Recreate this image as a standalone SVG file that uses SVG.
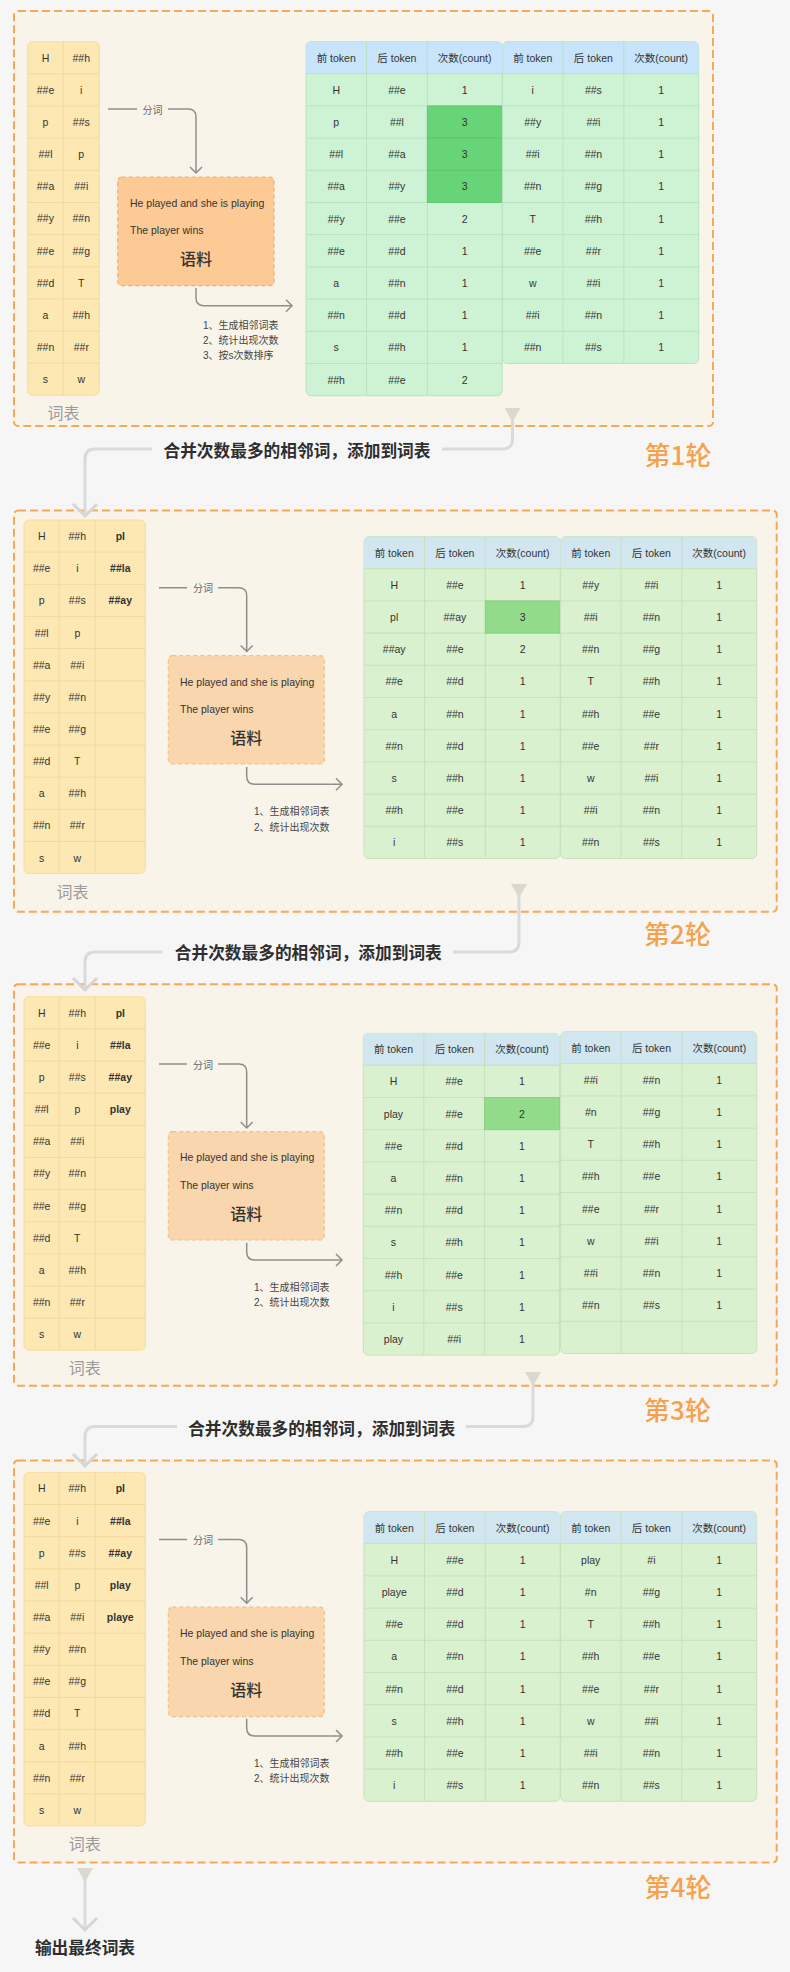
<svg xmlns="http://www.w3.org/2000/svg" width="790" height="1972" viewBox="0 0 790 1972">
<style>
text{font-family:"Liberation Sans","Noto Sans CJK SC",sans-serif;fill:#333;}
.c{text-anchor:middle;dominant-baseline:central;font-size:10.5px;}
.b{font-weight:bold;}
.round{fill:#f9f4ea;stroke:#f7a756;stroke-width:2;stroke-dasharray:8 4;}
.voc{fill:#fde8b3;stroke:#f6dca2;stroke-width:1;}
.vl{stroke:#f3d99c;stroke-width:1;fill:none;}
.vlab{font-family:"Noto Sans CJK SC",sans-serif;font-size:16px;fill:#9b9b9b;text-anchor:middle;dominant-baseline:central;}
.corp1{fill:#fdca96;stroke:#efae73;stroke-width:1.2;stroke-dasharray:4 3;}
.corp{fill:#f9d6ad;stroke:#eec08f;stroke-width:1.2;stroke-dasharray:4 3;}
.ct{font-size:10.5px;dominant-baseline:central;}
.yl{font-family:"Noto Sans CJK SC",sans-serif;font-size:16px;font-weight:500;text-anchor:middle;dominant-baseline:central;}
.fc{font-family:"Noto Sans CJK SC",sans-serif;font-size:10px;fill:#666;text-anchor:middle;dominant-baseline:central;}
.ls{font-size:10px;fill:#444;dominant-baseline:central;}
.sm{fill:none;stroke:#8e8e8e;stroke-width:1.5;}
.con{fill:none;stroke:#dadada;stroke-width:3;}
.ctx{font-family:"Noto Sans CJK SC",sans-serif;font-size:16.7px;font-weight:bold;text-anchor:middle;dominant-baseline:central;fill:#2e2e2e;}
.rnd{font-family:"Noto Sans CJK SC",sans-serif;font-size:26px;font-weight:500;fill:#f7a24b;text-anchor:middle;dominant-baseline:central;}
.tb1{fill:#cef3d4;stroke:#b8e1c1;stroke-width:1;}
.th1{fill:#c7e4fb;}
.hl1{fill:#67d577;stroke:#5cc46b;stroke-width:0.8;}
.g1{stroke:#b8e1c1;stroke-width:1;fill:none;}
.tb{fill:#daf1cf;stroke:#c6e1bb;stroke-width:1;}
.th{fill:#d1e6ef;}
.hl{fill:#92db8b;stroke:#86cc80;stroke-width:0.8;}
.g{stroke:#c6e1bb;stroke-width:1;fill:none;}
</style>
<defs>
<marker id="vsm" viewBox="-8 -8 10 16" refX="0" refY="0" markerWidth="10" markerHeight="16" markerUnits="userSpaceOnUse" orient="auto" overflow="visible"><path d="M-6,-6L0,0L-6,6" fill="none" stroke="#8e8e8e" stroke-width="1.5"/></marker>
<marker id="vbig" viewBox="-14 -14 16 28" refX="0" refY="0" markerWidth="16" markerHeight="28" markerUnits="userSpaceOnUse" orient="auto" overflow="visible"><path d="M-12,-12L0,0L-12,12" fill="none" stroke="#d6d6d6" stroke-width="3"/></marker>
<marker id="tri" viewBox="0 -9 15 18" refX="0" refY="0" markerWidth="15" markerHeight="18" markerUnits="userSpaceOnUse" orient="auto" overflow="visible"><path d="M0,-8L14,0L0,8Z" fill="#dcd8cf"/></marker>
<g id="sh1-10"><rect class="tb1" x="0" y="0" width="196.2" height="354" rx="5"/><path class="th1" d="M0,32V5Q0,0 5,0H191.2Q196.2,0 196.2,5V32Z"/><path class="g1" d="M60.5,0V354M121.3,0V354M0,32H196.2M0,64.2H196.2M0,96.4H196.2M0,128.6H196.2M0,160.8H196.2M0,193H196.2M0,225.2H196.2M0,257.4H196.2M0,289.6H196.2M0,321.8H196.2"/></g>
<g id="sh1-9"><rect class="tb1" x="0" y="0" width="196.2" height="321.8" rx="5"/><path class="th1" d="M0,32V5Q0,0 5,0H191.2Q196.2,0 196.2,5V32Z"/><path class="g1" d="M60.5,0V321.8M121.3,0V321.8M0,32H196.2M0,64.2H196.2M0,96.4H196.2M0,128.6H196.2M0,160.8H196.2M0,193H196.2M0,225.2H196.2M0,257.4H196.2M0,289.6H196.2"/></g>
<g id="sh2-9"><rect class="tb" x="0" y="0" width="196.2" height="321.8" rx="5"/><path class="th" d="M0,32V5Q0,0 5,0H191.2Q196.2,0 196.2,5V32Z"/><path class="g" d="M60.5,0V321.8M121.3,0V321.8M0,32H196.2M0,64.2H196.2M0,96.4H196.2M0,128.6H196.2M0,160.8H196.2M0,193H196.2M0,225.2H196.2M0,257.4H196.2M0,289.6H196.2"/></g>
<g id="sh2-8"><rect class="tb" x="0" y="0" width="196.2" height="289.6" rx="5"/><path class="th" d="M0,32V5Q0,0 5,0H191.2Q196.2,0 196.2,5V32Z"/><path class="g" d="M60.5,0V289.6M121.3,0V289.6M0,32H196.2M0,64.2H196.2M0,96.4H196.2M0,128.6H196.2M0,160.8H196.2M0,193H196.2M0,225.2H196.2M0,257.4H196.2"/></g>
<g id="voc2"><rect class="voc" x="0" y="0" width="71.6" height="353.6" rx="5"/><path class="vl" d="M35.6,0V353.6M0,32.1H71.6M0,64.3H71.6M0,96.4H71.6M0,128.6H71.6M0,160.8H71.6M0,192.9H71.6M0,225.1H71.6M0,257.2H71.6M0,289.4H71.6M0,321.5H71.6"/></g>
<g id="voc3"><rect class="voc" x="0" y="0" width="121.3" height="353.5" rx="5"/><path class="vl" d="M35.3,0V353.5M71.3,0V353.5M0,32.1H121.3M0,64.3H121.3M0,96.4H121.3M0,128.6H121.3M0,160.8H121.3M0,192.9H121.3M0,225.1H121.3M0,257.2H121.3M0,289.4H121.3M0,321.5H121.3"/></g>
</defs>
<rect x="0" y="0" width="790" height="1972" fill="#f6f6f6"/>

<!-- ROUND 1 -->
<g id="r1-box"><rect class="round" x="14" y="11" width="699" height="415" rx="4"/><text class="rnd" x="678" y="453">第1轮</text></g>
<g id="r1-vocab" transform="translate(27.7,41.7)"><use href="#voc2"/>
<text class="c" y="16.1"><tspan x="17.8">H</tspan><tspan x="53.6">##h</tspan></text>
<text class="c" y="48.2"><tspan x="17.8">##e</tspan><tspan x="53.6">i</tspan></text>
<text class="c" y="80.4"><tspan x="17.8">p</tspan><tspan x="53.6">##s</tspan></text>
<text class="c" y="112.5"><tspan x="17.8">##l</tspan><tspan x="53.6">p</tspan></text>
<text class="c" y="144.7"><tspan x="17.8">##a</tspan><tspan x="53.6">##i</tspan></text>
<text class="c" y="176.8"><tspan x="17.8">##y</tspan><tspan x="53.6">##n</tspan></text>
<text class="c" y="209"><tspan x="17.8">##e</tspan><tspan x="53.6">##g</tspan></text>
<text class="c" y="241.1"><tspan x="17.8">##d</tspan><tspan x="53.6">T</tspan></text>
<text class="c" y="273.3"><tspan x="17.8">a</tspan><tspan x="53.6">##h</tspan></text>
<text class="c" y="305.4"><tspan x="17.8">##n</tspan><tspan x="53.6">##r</tspan></text>
<text class="c" y="337.6"><tspan x="17.8">s</tspan><tspan x="53.6">w</tspan></text>
<text class="vlab" x="35.8" y="370.3">词表</text>
</g>
<g id="r1-corpus" transform="translate(117.7,177)"><rect class="corp1" x="0" y="0" width="156.3" height="108.7" rx="4"/>
<text class="ct" x="12.3" y="26">He played and she is playing</text>
<text class="ct" x="12.3" y="53">The player wins</text>
<text class="yl" x="78.2" y="81">语料</text></g>
<g id="r1-pairs-a" transform="translate(306,41.7)"><use href="#sh1-10"/>
<rect class="hl1" x="121.3" y="64.2" width="74.9" height="32.2"/><rect class="hl1" x="121.3" y="96.4" width="74.9" height="32.2"/><rect class="hl1" x="121.3" y="128.6" width="74.9" height="32.2"/>
<text class="c" y="16"><tspan x="30.2">前 token</tspan><tspan x="90.9">后 token</tspan><tspan x="158.7">次数(count)</tspan></text>
<text class="c" y="48.1"><tspan x="30.2">H</tspan><tspan x="90.9">##e</tspan><tspan x="158.7">1</tspan></text>
<text class="c" y="80.3"><tspan x="30.2">p</tspan><tspan x="90.9">##l</tspan><tspan x="158.7">3</tspan></text>
<text class="c" y="112.5"><tspan x="30.2">##l</tspan><tspan x="90.9">##a</tspan><tspan x="158.7">3</tspan></text>
<text class="c" y="144.7"><tspan x="30.2">##a</tspan><tspan x="90.9">##y</tspan><tspan x="158.7">3</tspan></text>
<text class="c" y="176.9"><tspan x="30.2">##y</tspan><tspan x="90.9">##e</tspan><tspan x="158.7">2</tspan></text>
<text class="c" y="209.1"><tspan x="30.2">##e</tspan><tspan x="90.9">##d</tspan><tspan x="158.7">1</tspan></text>
<text class="c" y="241.3"><tspan x="30.2">a</tspan><tspan x="90.9">##n</tspan><tspan x="158.7">1</tspan></text>
<text class="c" y="273.5"><tspan x="30.2">##n</tspan><tspan x="90.9">##d</tspan><tspan x="158.7">1</tspan></text>
<text class="c" y="305.7"><tspan x="30.2">s</tspan><tspan x="90.9">##h</tspan><tspan x="158.7">1</tspan></text>
<text class="c" y="337.9"><tspan x="30.2">##h</tspan><tspan x="90.9">##e</tspan><tspan x="158.7">2</tspan></text>
</g>
<g id="r1-pairs-b" transform="translate(502.5,41.7)"><use href="#sh1-9"/>
<text class="c" y="16"><tspan x="30.2">前 token</tspan><tspan x="90.9">后 token</tspan><tspan x="158.7">次数(count)</tspan></text>
<text class="c" y="48.1"><tspan x="30.2">i</tspan><tspan x="90.9">##s</tspan><tspan x="158.7">1</tspan></text>
<text class="c" y="80.3"><tspan x="30.2">##y</tspan><tspan x="90.9">##i</tspan><tspan x="158.7">1</tspan></text>
<text class="c" y="112.5"><tspan x="30.2">##i</tspan><tspan x="90.9">##n</tspan><tspan x="158.7">1</tspan></text>
<text class="c" y="144.7"><tspan x="30.2">##n</tspan><tspan x="90.9">##g</tspan><tspan x="158.7">1</tspan></text>
<text class="c" y="176.9"><tspan x="30.2">T</tspan><tspan x="90.9">##h</tspan><tspan x="158.7">1</tspan></text>
<text class="c" y="209.1"><tspan x="30.2">##e</tspan><tspan x="90.9">##r</tspan><tspan x="158.7">1</tspan></text>
<text class="c" y="241.3"><tspan x="30.2">w</tspan><tspan x="90.9">##i</tspan><tspan x="158.7">1</tspan></text>
<text class="c" y="273.5"><tspan x="30.2">##i</tspan><tspan x="90.9">##n</tspan><tspan x="158.7">1</tspan></text>
<text class="c" y="305.7"><tspan x="30.2">##n</tspan><tspan x="90.9">##s</tspan><tspan x="158.7">1</tspan></text>
</g>

<!-- ROUND 2 -->
<g id="r2-box"><rect class="round" x="14" y="510.5" width="762.7" height="401.2" rx="4"/><text class="rnd" x="677.5" y="932.7">第2轮</text></g>
<g id="r2-vocab" transform="translate(24,520)"><use href="#voc3"/>
<text class="c" y="16.1"><tspan x="17.7">H</tspan><tspan x="53.3">##h</tspan><tspan x="96.3" class="b">pl</tspan></text>
<text class="c" y="48.2"><tspan x="17.7">##e</tspan><tspan x="53.3">i</tspan><tspan x="96.3" class="b">##la</tspan></text>
<text class="c" y="80.4"><tspan x="17.7">p</tspan><tspan x="53.3">##s</tspan><tspan x="96.3" class="b">##ay</tspan></text>
<text class="c" y="112.5"><tspan x="17.7">##l</tspan><tspan x="53.3">p</tspan></text>
<text class="c" y="144.7"><tspan x="17.7">##a</tspan><tspan x="53.3">##i</tspan></text>
<text class="c" y="176.8"><tspan x="17.7">##y</tspan><tspan x="53.3">##n</tspan></text>
<text class="c" y="209"><tspan x="17.7">##e</tspan><tspan x="53.3">##g</tspan></text>
<text class="c" y="241.1"><tspan x="17.7">##d</tspan><tspan x="53.3">T</tspan></text>
<text class="c" y="273.3"><tspan x="17.7">a</tspan><tspan x="53.3">##h</tspan></text>
<text class="c" y="305.4"><tspan x="17.7">##n</tspan><tspan x="53.3">##r</tspan></text>
<text class="c" y="337.6"><tspan x="17.7">s</tspan><tspan x="53.3">w</tspan></text>
<text class="vlab" x="48.5" y="371">词表</text>
</g>
<g id="r2-corpus" transform="translate(168.3,655.7)"><rect class="corp" x="0" y="0" width="156" height="108.3" rx="4"/>
<text class="ct" x="11.7" y="26">He played and she is playing</text>
<text class="ct" x="11.7" y="53.3">The player wins</text>
<text class="yl" x="78" y="81.3">语料</text></g>
<g id="r2-pairs-a" transform="translate(364,536.7)"><use href="#sh2-9"/>
<rect class="hl" x="121.3" y="64.2" width="74.9" height="32.2"/>
<text class="c" y="16"><tspan x="30.2">前 token</tspan><tspan x="90.9">后 token</tspan><tspan x="158.7">次数(count)</tspan></text>
<text class="c" y="48.1"><tspan x="30.2">H</tspan><tspan x="90.9">##e</tspan><tspan x="158.7">1</tspan></text>
<text class="c" y="80.3"><tspan x="30.2">pl</tspan><tspan x="90.9">##ay</tspan><tspan x="158.7">3</tspan></text>
<text class="c" y="112.5"><tspan x="30.2">##ay</tspan><tspan x="90.9">##e</tspan><tspan x="158.7">2</tspan></text>
<text class="c" y="144.7"><tspan x="30.2">##e</tspan><tspan x="90.9">##d</tspan><tspan x="158.7">1</tspan></text>
<text class="c" y="176.9"><tspan x="30.2">a</tspan><tspan x="90.9">##n</tspan><tspan x="158.7">1</tspan></text>
<text class="c" y="209.1"><tspan x="30.2">##n</tspan><tspan x="90.9">##d</tspan><tspan x="158.7">1</tspan></text>
<text class="c" y="241.3"><tspan x="30.2">s</tspan><tspan x="90.9">##h</tspan><tspan x="158.7">1</tspan></text>
<text class="c" y="273.5"><tspan x="30.2">##h</tspan><tspan x="90.9">##e</tspan><tspan x="158.7">1</tspan></text>
<text class="c" y="305.7"><tspan x="30.2">i</tspan><tspan x="90.9">##s</tspan><tspan x="158.7">1</tspan></text>
</g>
<g id="r2-pairs-b" transform="translate(560.5,536.7)"><use href="#sh2-9"/>
<text class="c" y="16"><tspan x="30.2">前 token</tspan><tspan x="90.9">后 token</tspan><tspan x="158.7">次数(count)</tspan></text>
<text class="c" y="48.1"><tspan x="30.2">##y</tspan><tspan x="90.9">##i</tspan><tspan x="158.7">1</tspan></text>
<text class="c" y="80.3"><tspan x="30.2">##i</tspan><tspan x="90.9">##n</tspan><tspan x="158.7">1</tspan></text>
<text class="c" y="112.5"><tspan x="30.2">##n</tspan><tspan x="90.9">##g</tspan><tspan x="158.7">1</tspan></text>
<text class="c" y="144.7"><tspan x="30.2">T</tspan><tspan x="90.9">##h</tspan><tspan x="158.7">1</tspan></text>
<text class="c" y="176.9"><tspan x="30.2">##h</tspan><tspan x="90.9">##e</tspan><tspan x="158.7">1</tspan></text>
<text class="c" y="209.1"><tspan x="30.2">##e</tspan><tspan x="90.9">##r</tspan><tspan x="158.7">1</tspan></text>
<text class="c" y="241.3"><tspan x="30.2">w</tspan><tspan x="90.9">##i</tspan><tspan x="158.7">1</tspan></text>
<text class="c" y="273.5"><tspan x="30.2">##i</tspan><tspan x="90.9">##n</tspan><tspan x="158.7">1</tspan></text>
<text class="c" y="305.7"><tspan x="30.2">##n</tspan><tspan x="90.9">##s</tspan><tspan x="158.7">1</tspan></text>
</g>

<!-- ROUND 3 -->
<g id="r3-box"><rect class="round" x="14" y="984.3" width="762.7" height="401.4" rx="4"/><text class="rnd" x="677.5" y="1408.3">第3轮</text></g>
<g id="r3-vocab" transform="translate(24,996.7)"><use href="#voc3"/>
<text class="c" y="16.1"><tspan x="17.7">H</tspan><tspan x="53.3">##h</tspan><tspan x="96.3" class="b">pl</tspan></text>
<text class="c" y="48.2"><tspan x="17.7">##e</tspan><tspan x="53.3">i</tspan><tspan x="96.3" class="b">##la</tspan></text>
<text class="c" y="80.4"><tspan x="17.7">p</tspan><tspan x="53.3">##s</tspan><tspan x="96.3" class="b">##ay</tspan></text>
<text class="c" y="112.5"><tspan x="17.7">##l</tspan><tspan x="53.3">p</tspan><tspan x="96.3" class="b">play</tspan></text>
<text class="c" y="144.7"><tspan x="17.7">##a</tspan><tspan x="53.3">##i</tspan></text>
<text class="c" y="176.8"><tspan x="17.7">##y</tspan><tspan x="53.3">##n</tspan></text>
<text class="c" y="209"><tspan x="17.7">##e</tspan><tspan x="53.3">##g</tspan></text>
<text class="c" y="241.1"><tspan x="17.7">##d</tspan><tspan x="53.3">T</tspan></text>
<text class="c" y="273.3"><tspan x="17.7">a</tspan><tspan x="53.3">##h</tspan></text>
<text class="c" y="305.4"><tspan x="17.7">##n</tspan><tspan x="53.3">##r</tspan></text>
<text class="c" y="337.6"><tspan x="17.7">s</tspan><tspan x="53.3">w</tspan></text>
<text class="vlab" x="60.8" y="370">词表</text>
</g>
<g id="r3-corpus" transform="translate(168.3,1131.7)"><rect class="corp" x="0" y="0" width="156" height="108.3" rx="4"/>
<text class="ct" x="11.7" y="25.6">He played and she is playing</text>
<text class="ct" x="11.7" y="53.3">The player wins</text>
<text class="yl" x="78" y="81.6">语料</text></g>
<g id="r3-pairs-a" transform="translate(363.3,1033.3)"><use href="#sh2-9"/>
<rect class="hl" x="121.3" y="64.2" width="74.9" height="32.2"/>
<text class="c" y="16"><tspan x="30.2">前 token</tspan><tspan x="90.9">后 token</tspan><tspan x="158.7">次数(count)</tspan></text>
<text class="c" y="48.1"><tspan x="30.2">H</tspan><tspan x="90.9">##e</tspan><tspan x="158.7">1</tspan></text>
<text class="c" y="80.3"><tspan x="30.2">play</tspan><tspan x="90.9">##e</tspan><tspan x="158.7">2</tspan></text>
<text class="c" y="112.5"><tspan x="30.2">##e</tspan><tspan x="90.9">##d</tspan><tspan x="158.7">1</tspan></text>
<text class="c" y="144.7"><tspan x="30.2">a</tspan><tspan x="90.9">##n</tspan><tspan x="158.7">1</tspan></text>
<text class="c" y="176.9"><tspan x="30.2">##n</tspan><tspan x="90.9">##d</tspan><tspan x="158.7">1</tspan></text>
<text class="c" y="209.1"><tspan x="30.2">s</tspan><tspan x="90.9">##h</tspan><tspan x="158.7">1</tspan></text>
<text class="c" y="241.3"><tspan x="30.2">##h</tspan><tspan x="90.9">##e</tspan><tspan x="158.7">1</tspan></text>
<text class="c" y="273.5"><tspan x="30.2">i</tspan><tspan x="90.9">##s</tspan><tspan x="158.7">1</tspan></text>
<text class="c" y="305.7"><tspan x="30.2">play</tspan><tspan x="90.9">##i</tspan><tspan x="158.7">1</tspan></text>
</g>
<g id="r3-pairs-b" transform="translate(560.6,1031.7)"><use href="#sh2-9"/>
<text class="c" y="16"><tspan x="30.2">前 token</tspan><tspan x="90.9">后 token</tspan><tspan x="158.7">次数(count)</tspan></text>
<text class="c" y="48.1"><tspan x="30.2">##i</tspan><tspan x="90.9">##n</tspan><tspan x="158.7">1</tspan></text>
<text class="c" y="80.3"><tspan x="30.2">#n</tspan><tspan x="90.9">##g</tspan><tspan x="158.7">1</tspan></text>
<text class="c" y="112.5"><tspan x="30.2">T</tspan><tspan x="90.9">##h</tspan><tspan x="158.7">1</tspan></text>
<text class="c" y="144.7"><tspan x="30.2">##h</tspan><tspan x="90.9">##e</tspan><tspan x="158.7">1</tspan></text>
<text class="c" y="176.9"><tspan x="30.2">##e</tspan><tspan x="90.9">##r</tspan><tspan x="158.7">1</tspan></text>
<text class="c" y="209.1"><tspan x="30.2">w</tspan><tspan x="90.9">##i</tspan><tspan x="158.7">1</tspan></text>
<text class="c" y="241.3"><tspan x="30.2">##i</tspan><tspan x="90.9">##n</tspan><tspan x="158.7">1</tspan></text>
<text class="c" y="273.5"><tspan x="30.2">##n</tspan><tspan x="90.9">##s</tspan><tspan x="158.7">1</tspan></text>
</g>

<!-- ROUND 4 -->
<g id="r4-box"><rect class="round" x="14" y="1460.6" width="762.7" height="401.9" rx="4"/><text class="rnd" x="678" y="1885">第4轮</text></g>
<g id="r4-vocab" transform="translate(24,1472.4)"><use href="#voc3"/>
<text class="c" y="16.1"><tspan x="17.7">H</tspan><tspan x="53.3">##h</tspan><tspan x="96.3" class="b">pl</tspan></text>
<text class="c" y="48.2"><tspan x="17.7">##e</tspan><tspan x="53.3">i</tspan><tspan x="96.3" class="b">##la</tspan></text>
<text class="c" y="80.4"><tspan x="17.7">p</tspan><tspan x="53.3">##s</tspan><tspan x="96.3" class="b">##ay</tspan></text>
<text class="c" y="112.5"><tspan x="17.7">##l</tspan><tspan x="53.3">p</tspan><tspan x="96.3" class="b">play</tspan></text>
<text class="c" y="144.7"><tspan x="17.7">##a</tspan><tspan x="53.3">##i</tspan><tspan x="96.3" class="b">playe</tspan></text>
<text class="c" y="176.8"><tspan x="17.7">##y</tspan><tspan x="53.3">##n</tspan></text>
<text class="c" y="209"><tspan x="17.7">##e</tspan><tspan x="53.3">##g</tspan></text>
<text class="c" y="241.1"><tspan x="17.7">##d</tspan><tspan x="53.3">T</tspan></text>
<text class="c" y="273.3"><tspan x="17.7">a</tspan><tspan x="53.3">##h</tspan></text>
<text class="c" y="305.4"><tspan x="17.7">##n</tspan><tspan x="53.3">##r</tspan></text>
<text class="c" y="337.6"><tspan x="17.7">s</tspan><tspan x="53.3">w</tspan></text>
<text class="vlab" x="60.8" y="370.6">词表</text>
</g>
<g id="r4-corpus" transform="translate(168.3,1607.2)"><rect class="corp" x="0" y="0" width="156" height="109.4" rx="4"/>
<text class="ct" x="11.7" y="25.9">He played and she is playing</text>
<text class="ct" x="11.7" y="53.8">The player wins</text>
<text class="yl" x="78" y="81.6">语料</text></g>
<g id="r4-pairs-a" transform="translate(364,1511.7)"><use href="#sh2-8"/>
<text class="c" y="16"><tspan x="30.2">前 token</tspan><tspan x="90.9">后 token</tspan><tspan x="158.7">次数(count)</tspan></text>
<text class="c" y="48.1"><tspan x="30.2">H</tspan><tspan x="90.9">##e</tspan><tspan x="158.7">1</tspan></text>
<text class="c" y="80.3"><tspan x="30.2">playe</tspan><tspan x="90.9">##d</tspan><tspan x="158.7">1</tspan></text>
<text class="c" y="112.5"><tspan x="30.2">##e</tspan><tspan x="90.9">##d</tspan><tspan x="158.7">1</tspan></text>
<text class="c" y="144.7"><tspan x="30.2">a</tspan><tspan x="90.9">##n</tspan><tspan x="158.7">1</tspan></text>
<text class="c" y="176.9"><tspan x="30.2">##n</tspan><tspan x="90.9">##d</tspan><tspan x="158.7">1</tspan></text>
<text class="c" y="209.1"><tspan x="30.2">s</tspan><tspan x="90.9">##h</tspan><tspan x="158.7">1</tspan></text>
<text class="c" y="241.3"><tspan x="30.2">##h</tspan><tspan x="90.9">##e</tspan><tspan x="158.7">1</tspan></text>
<text class="c" y="273.5"><tspan x="30.2">i</tspan><tspan x="90.9">##s</tspan><tspan x="158.7">1</tspan></text>
</g>
<g id="r4-pairs-b" transform="translate(560.5,1511.7)"><use href="#sh2-8"/>
<text class="c" y="16"><tspan x="30.2">前 token</tspan><tspan x="90.9">后 token</tspan><tspan x="158.7">次数(count)</tspan></text>
<text class="c" y="48.1"><tspan x="30.2">play</tspan><tspan x="90.9">#i</tspan><tspan x="158.7">1</tspan></text>
<text class="c" y="80.3"><tspan x="30.2">#n</tspan><tspan x="90.9">##g</tspan><tspan x="158.7">1</tspan></text>
<text class="c" y="112.5"><tspan x="30.2">T</tspan><tspan x="90.9">##h</tspan><tspan x="158.7">1</tspan></text>
<text class="c" y="144.7"><tspan x="30.2">##h</tspan><tspan x="90.9">##e</tspan><tspan x="158.7">1</tspan></text>
<text class="c" y="176.9"><tspan x="30.2">##e</tspan><tspan x="90.9">##r</tspan><tspan x="158.7">1</tspan></text>
<text class="c" y="209.1"><tspan x="30.2">w</tspan><tspan x="90.9">##i</tspan><tspan x="158.7">1</tspan></text>
<text class="c" y="241.3"><tspan x="30.2">##i</tspan><tspan x="90.9">##n</tspan><tspan x="158.7">1</tspan></text>
<text class="c" y="273.5"><tspan x="30.2">##n</tspan><tspan x="90.9">##s</tspan><tspan x="158.7">1</tspan></text>
</g>
<g id="output"><text class="ctx" x="85" y="1947.3">输出最终词表</text></g>

<!-- CONNECTORS -->
<g id="connectors">
<path class="sm" d="M108,109H137M168,109H188Q196,109 196,117V173" marker-end="url(#vsm)"/>
<text class="fc" x="152.5" y="109">分词</text>
<path class="sm" d="M196,288V297.7Q196,305.7 204,305.7H292" marker-end="url(#vsm)"/>
<text class="ls" x="203" y="325">1、生成相邻词表</text>
<text class="ls" x="203" y="340">2、统计出现次数</text>
<text class="ls" x="203" y="355.7">3、按s次数排序</text>

<path class="sm" d="M159,587.7H187M218,587.7H238.7Q246.7,587.7 246.7,595.7V651.5" marker-end="url(#vsm)"/>
<text class="fc" x="203" y="587.7">分词</text>
<path class="sm" d="M246.7,767V776.3Q246.7,784.3 254.7,784.3H342" marker-end="url(#vsm)"/>
<text class="ls" x="254" y="811.7">1、生成相邻词表</text>
<text class="ls" x="254" y="827">2、统计出现次数</text>

<path class="sm" d="M159,1064H187M218,1064H238.7Q246.7,1064 246.7,1072V1128" marker-end="url(#vsm)"/>
<text class="fc" x="203" y="1064">分词</text>
<path class="sm" d="M246.7,1242.7V1252Q246.7,1260 254.7,1260H342" marker-end="url(#vsm)"/>
<text class="ls" x="254" y="1287.7">1、生成相邻词表</text>
<text class="ls" x="254" y="1302.7">2、统计出现次数</text>

<path class="sm" d="M159,1539.6H187M218,1539.6H238.7Q246.7,1539.6 246.7,1547.6V1603.2" marker-end="url(#vsm)"/>
<text class="fc" x="203" y="1539.6">分词</text>
<path class="sm" d="M246.7,1718.8V1728Q246.7,1736 254.7,1736H342" marker-end="url(#vsm)"/>
<text class="ls" x="254" y="1763">1、生成相邻词表</text>
<text class="ls" x="254" y="1778.6">2、统计出现次数</text>

<path class="con" d="M512.5,408V439Q512.5,449 502.5,449H442" marker-start="url(#tri)"/>
<text class="ctx" x="297" y="450">合并次数最多的相邻词，添加到词表</text>
<path class="con" d="M152,449H95Q85,449 85,459V516" marker-end="url(#vbig)"/>

<path class="con" d="M519,884V942Q519,952 509,952H453" marker-start="url(#tri)"/>
<text class="ctx" x="308.3" y="952.3">合并次数最多的相邻词，添加到词表</text>
<path class="con" d="M162,952H95Q85,952 85,962V990" marker-end="url(#vbig)"/>

<path class="con" d="M533,1372V1416.5Q533,1426.5 523,1426.5H466" marker-start="url(#tri)"/>
<text class="ctx" x="321.7" y="1427.5">合并次数最多的相邻词，添加到词表</text>
<path class="con" d="M177,1426.5H95Q85,1426.5 85,1436.5V1466" marker-end="url(#vbig)"/>

<path class="con" d="M85,1868V1930" marker-start="url(#tri)" marker-end="url(#vbig)"/>
</g>
</svg>
